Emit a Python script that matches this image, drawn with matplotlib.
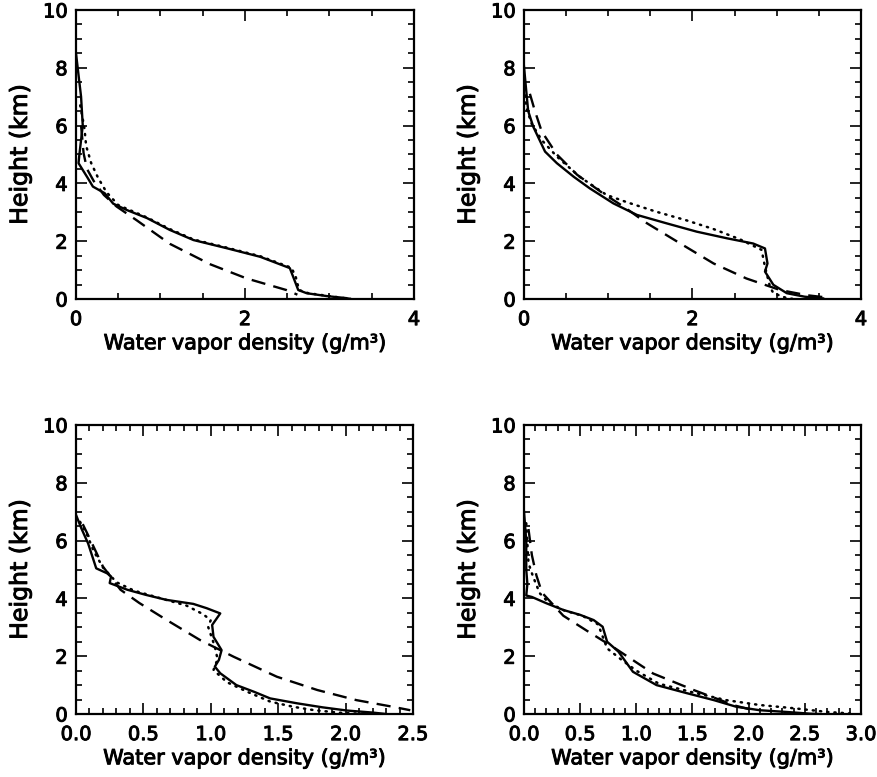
import matplotlib
matplotlib.use("Agg")
import matplotlib.pyplot as plt
import matplotlib.patheffects as pe
from matplotlib.ticker import MultipleLocator, FormatStrFormatter

# ---------------- data ----------------
# Panel A (top-left)
a_solid_x = [0.0, 0.02, 0.04, 0.06, 0.07, 0.08, 0.06, 0.04, 0.03, 0.13, 0.20, 0.34, 0.44, 0.60, 0.84,
             1.11, 1.39, 1.78, 2.18, 2.53, 2.57, 2.63, 2.73, 2.97, 3.20, 3.25]
a_solid_h = [8.5, 8.0, 7.5, 7.0, 6.5, 6.0, 5.5, 5.0, 4.7, 4.23, 3.89, 3.66, 3.30, 3.08, 2.80,
             2.39, 2.04, 1.76, 1.46, 1.07, 0.77, 0.31, 0.20, 0.10, 0.03, 0.0]
a_dot_x = [0.05, 0.10, 0.12, 0.18, 0.26, 0.36, 0.50, 0.84, 1.11, 1.39, 1.78, 2.18, 2.55, 2.60,
           2.64, 2.75, 3.00, 3.25]
a_dot_h = [6.7, 5.9, 5.3, 4.7, 4.2, 3.7, 3.25, 2.82, 2.42, 2.06, 1.78, 1.48, 1.08, 0.77,
           0.31, 0.20, 0.10, 0.0]
a_dash_x = [0.06, 0.09, 0.13, 0.21, 0.33, 0.48, 0.72, 1.11, 1.59, 2.02, 2.49, 2.62]
a_dash_h = [6.0, 5.04, 4.5, 4.08, 3.6, 3.2, 2.72, 1.91, 1.20, 0.71, 0.31, 0.15]

# Panel B (top-right)
b_solid_x = [0.0, 0.03, 0.05, 0.11, 0.25, 0.39, 0.59, 0.78, 1.06, 1.34, 1.69, 2.05, 2.41, 2.72,
             2.86, 2.89, 2.86, 2.96, 3.12, 3.33, 3.55]
b_solid_h = [8.04, 7.1, 6.5, 5.96, 5.1, 4.7, 4.23, 3.83, 3.31, 2.91, 2.62, 2.33, 2.10, 1.92,
             1.75, 1.23, 0.95, 0.49, 0.20, 0.08, 0.02]
b_dot_x = [0.0, 0.03, 0.09, 0.21, 0.39, 0.66, 0.98, 1.22, 1.57, 1.93, 2.25, 2.56, 2.82, 2.86,
           2.92, 2.96, 3.12, 3.20]
b_dot_h = [7.3, 6.6, 6.07, 5.5, 4.93, 4.23, 3.6, 3.35, 3.02, 2.72, 2.42, 2.07, 1.7, 1.12,
           0.42, 0.20, 0.03, 0.0]
b_dash_x = [0.07, 0.13, 0.21, 0.39, 0.63, 0.94, 1.18, 1.46, 1.85, 2.25, 2.64, 3.04, 3.36, 3.60]
b_dash_h = [7.1, 6.5, 5.8, 5.0, 4.3, 3.65, 3.2, 2.62, 1.93, 1.23, 0.71, 0.31, 0.13, 0.05]

# Panel C (bottom-left)
c_solid_x = [0.0, 0.04, 0.09, 0.15, 0.23, 0.26, 0.25, 0.38, 0.52, 0.67, 0.87, 0.97, 1.07, 1.01,
             1.02, 1.08, 1.06, 1.03, 1.07, 1.19, 1.32, 1.44, 1.64, 1.83, 2.01, 2.20, 2.30]
c_solid_h = [6.89, 6.42, 5.9, 5.04, 4.87, 4.76, 4.53, 4.3, 4.12, 3.95, 3.81, 3.66, 3.48, 3.08,
             2.67, 2.21, 1.87, 1.64, 1.41, 1.0, 0.77, 0.54, 0.37, 0.23, 0.12, 0.05, 0.0]
c_dot_x = [0.03, 0.08, 0.13, 0.20, 0.30, 0.43, 0.60, 0.82, 0.94, 1.00, 0.98, 1.03, 1.05, 1.02,
           1.12, 1.27, 1.44, 1.61, 1.77, 1.97, 2.15]
c_dot_h = [6.65, 6.23, 5.65, 5.07, 4.56, 4.27, 4.04, 3.75, 3.46, 3.25, 3.02, 2.33, 1.9, 1.52,
           1.1, 0.77, 0.43, 0.25, 0.13, 0.04, 0.0]
c_dash_x = [0.05, 0.11, 0.20, 0.33, 0.47, 0.67, 0.92, 1.17, 1.49, 1.79, 2.08, 2.35, 2.48]
c_dash_h = [6.57, 5.99, 5.1, 4.3, 3.84, 3.26, 2.56, 1.98, 1.29, 0.83, 0.48, 0.25, 0.13]

# Panel D (bottom-right)
d_solid_x = [0.0, 0.02, 0.02, 0.03, 0.02, 0.07, 0.20, 0.35, 0.50, 0.62, 0.70, 0.74, 0.84, 0.97,
             1.18, 1.45, 1.69, 1.89, 2.10, 2.34, 2.55, 2.62]
d_solid_h = [7.0, 6.0, 5.0, 4.5, 4.1, 4.05, 3.83, 3.6, 3.43, 3.25, 3.02, 2.5, 2.16, 1.46,
             1.0, 0.72, 0.48, 0.25, 0.13, 0.07, 0.01, 0.0]
d_dot_x = [0.02, 0.04, 0.08, 0.14, 0.22, 0.36, 0.52, 0.66, 0.74, 0.87, 1.0, 1.2, 1.5, 1.8,
           2.1, 2.4, 2.7, 2.9]
d_dot_h = [6.6, 5.22, 4.76, 4.18, 3.85, 3.58, 3.4, 3.1, 2.27, 1.87, 1.5, 1.05, 0.75, 0.48,
           0.31, 0.20, 0.07, 0.02]
d_dash_x = [0.04, 0.07, 0.11, 0.16, 0.35, 0.56, 0.80, 1.15, 1.51, 1.75, 1.86, 2.05]
d_dash_h = [6.4, 5.5, 4.8, 4.2, 3.4, 2.88, 2.3, 1.4, 0.83, 0.48, 0.31, 0.12]

panels = [
    dict(solid=(a_solid_x, a_solid_h), dot=(a_dot_x, a_dot_h), dash=(a_dash_x, a_dash_h),
         xlim=(0, 4), xmaj=2, xmin=0.5, fmt="%d"),
    dict(solid=(b_solid_x, b_solid_h), dot=(b_dot_x, b_dot_h), dash=(b_dash_x, b_dash_h),
         xlim=(0, 4), xmaj=2, xmin=0.5, fmt="%d"),
    dict(solid=(c_solid_x, c_solid_h), dot=(c_dot_x, c_dot_h), dash=(c_dash_x, c_dash_h),
         xlim=(0, 2.5), xmaj=0.5, xmin=0.1, fmt="%.1f"),
    dict(solid=(d_solid_x, d_solid_h), dot=(d_dot_x, d_dot_h), dash=(d_dash_x, d_dash_h),
         xlim=(0, 3.0), xmaj=0.5, xmin=0.1, fmt="%.1f"),
]

xlabel = "Water vapor density (g/m³)"
ylabel = "Height (km)"

plt.rcParams['font.family'] = ['DejaVu Sans']

W, H = 878, 777
fig = plt.figure(figsize=(W / 100, H / 100), dpi=100)

boxes = [(76, 10, 414, 299), (524, 10, 861, 299), (76, 425, 413, 714), (524, 425, 861, 714)]
thick = [pe.withStroke(linewidth=0.7, foreground='black')]

for p, (x0, y0, x1, y1) in zip(panels, boxes):
    ax = fig.add_axes([x0 / W, 1 - y1 / H, (x1 - x0) / W, (y1 - y0) / H])
    ax.plot(*p['solid'], color='black', lw=1.7, solid_joinstyle='round')
    ax.plot(*p['dot'], color='black', lw=1.8, linestyle=(0, (0.5, 2.4)), dash_capstyle='round')
    ax.plot(*p['dash'], color='black', lw=1.7, linestyle=(0, (6, 3.5)))
    ax.set_xlim(*p['xlim'])
    ax.set_ylim(0, 10)
    ax.xaxis.set_major_locator(MultipleLocator(p['xmaj']))
    ax.xaxis.set_minor_locator(MultipleLocator(p['xmin']))
    ax.xaxis.set_major_formatter(FormatStrFormatter(p['fmt']))
    ax.yaxis.set_major_locator(MultipleLocator(2))
    ax.yaxis.set_minor_locator(MultipleLocator(0.5))
    ax.tick_params(which='both', direction='in', top=True, right=True, width=1.2,
                   labelsize=14, colors='black')
    ax.tick_params(which='major', length=8)
    ax.tick_params(axis='x', which='major', pad=8)
    ax.tick_params(axis='y', which='major', pad=6)
    ax.tick_params(which='minor', length=4)
    for lab in ax.get_xticklabels() + ax.get_yticklabels():
        lab.set_path_effects(thick)
    for s in ax.spines.values():
        s.set_linewidth(1.6)
    xl = ax.set_xlabel(xlabel, fontsize=15, labelpad=3)
    yl = ax.set_ylabel(ylabel, fontsize=17, labelpad=8)
    xl.set_path_effects(thick)
    yl.set_path_effects(thick)

fig.savefig("out.png", dpi=100)
